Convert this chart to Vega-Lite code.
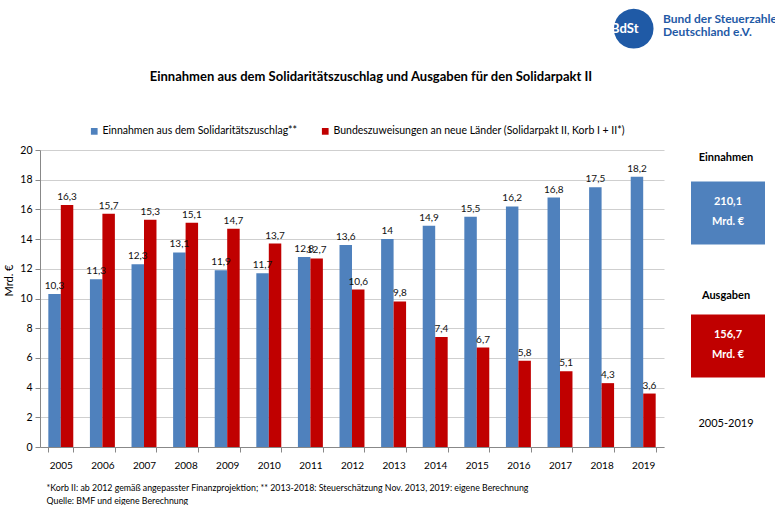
{
  "$schema": "https://vega.github.io/schema/vega-lite/v6.json",
  "padding": {"left": 3, "top": 0, "right": 0, "bottom": 0},
  "background": "white",
  "title": {
    "text": ["Bund der Steuerzahler", "Deutschland e.V."], "font": "Lato", "fontSize": 12, "fontWeight": "bold",
    "color": "#1f5aa6", "anchor": "start", "frame": "group", "dx": 623, "offset": -39, "lineHeight": 13
  },
  "spacing": 12,
  "bounds": "flush",
  "config": {
    "locale": {"number": {"decimal": ",", "thousands": ".", "grouping": [3], "currency": ["", " €"]}},
    "view": {"stroke": null},
    "font": "Lato"
  },
  "hconcat": [
    {
      "width": 624,
      "height": 297,
      "title": {
        "text": "Einnahmen aus dem Solidaritätszuschlag und Ausgaben für den Solidarpakt II",
        "font": "Lato", "fontSize": 13, "fontWeight": "bold", "color": "#000000",
        "anchor": "middle", "frame": "group", "dx": 19, "offset": 61
      },
      "data": {"values": [
        {"jahr": "2005", "serie": "Einnahmen aus dem Solidaritätszuschlag**", "wert": 10.3},
        {"jahr": "2006", "serie": "Einnahmen aus dem Solidaritätszuschlag**", "wert": 11.3},
        {"jahr": "2007", "serie": "Einnahmen aus dem Solidaritätszuschlag**", "wert": 12.3},
        {"jahr": "2008", "serie": "Einnahmen aus dem Solidaritätszuschlag**", "wert": 13.1},
        {"jahr": "2009", "serie": "Einnahmen aus dem Solidaritätszuschlag**", "wert": 11.9},
        {"jahr": "2010", "serie": "Einnahmen aus dem Solidaritätszuschlag**", "wert": 11.7},
        {"jahr": "2011", "serie": "Einnahmen aus dem Solidaritätszuschlag**", "wert": 12.8},
        {"jahr": "2012", "serie": "Einnahmen aus dem Solidaritätszuschlag**", "wert": 13.6},
        {"jahr": "2013", "serie": "Einnahmen aus dem Solidaritätszuschlag**", "wert": 14},
        {"jahr": "2014", "serie": "Einnahmen aus dem Solidaritätszuschlag**", "wert": 14.9},
        {"jahr": "2015", "serie": "Einnahmen aus dem Solidaritätszuschlag**", "wert": 15.5},
        {"jahr": "2016", "serie": "Einnahmen aus dem Solidaritätszuschlag**", "wert": 16.2},
        {"jahr": "2017", "serie": "Einnahmen aus dem Solidaritätszuschlag**", "wert": 16.8},
        {"jahr": "2018", "serie": "Einnahmen aus dem Solidaritätszuschlag**", "wert": 17.5},
        {"jahr": "2019", "serie": "Einnahmen aus dem Solidaritätszuschlag**", "wert": 18.2},
        {"jahr": "2005", "serie": "Bundeszuweisungen an neue Länder (Solidarpakt II, Korb I + II*)", "wert": 16.3},
        {"jahr": "2006", "serie": "Bundeszuweisungen an neue Länder (Solidarpakt II, Korb I + II*)", "wert": 15.7},
        {"jahr": "2007", "serie": "Bundeszuweisungen an neue Länder (Solidarpakt II, Korb I + II*)", "wert": 15.3},
        {"jahr": "2008", "serie": "Bundeszuweisungen an neue Länder (Solidarpakt II, Korb I + II*)", "wert": 15.1},
        {"jahr": "2009", "serie": "Bundeszuweisungen an neue Länder (Solidarpakt II, Korb I + II*)", "wert": 14.7},
        {"jahr": "2010", "serie": "Bundeszuweisungen an neue Länder (Solidarpakt II, Korb I + II*)", "wert": 13.7},
        {"jahr": "2011", "serie": "Bundeszuweisungen an neue Länder (Solidarpakt II, Korb I + II*)", "wert": 12.7},
        {"jahr": "2012", "serie": "Bundeszuweisungen an neue Länder (Solidarpakt II, Korb I + II*)", "wert": 10.6},
        {"jahr": "2013", "serie": "Bundeszuweisungen an neue Länder (Solidarpakt II, Korb I + II*)", "wert": 9.8},
        {"jahr": "2014", "serie": "Bundeszuweisungen an neue Länder (Solidarpakt II, Korb I + II*)", "wert": 7.4},
        {"jahr": "2015", "serie": "Bundeszuweisungen an neue Länder (Solidarpakt II, Korb I + II*)", "wert": 6.7},
        {"jahr": "2016", "serie": "Bundeszuweisungen an neue Länder (Solidarpakt II, Korb I + II*)", "wert": 5.8},
        {"jahr": "2017", "serie": "Bundeszuweisungen an neue Länder (Solidarpakt II, Korb I + II*)", "wert": 5.1},
        {"jahr": "2018", "serie": "Bundeszuweisungen an neue Länder (Solidarpakt II, Korb I + II*)", "wert": 4.3},
        {"jahr": "2019", "serie": "Bundeszuweisungen an neue Länder (Solidarpakt II, Korb I + II*)", "wert": 3.6}
      ]},
      "encoding": {
        "x": {
          "field": "jahr", "type": "nominal", "sort": null,
          "scale": {"paddingInner": 0.4, "paddingOuter": 0.2},
          "axis": {
            "title": ["*Korb II: ab 2012 gemäß angepasster Finanzprojektion; ** 2013-2018: Steuerschätzung Nov. 2013, 2019: eigene Berechnung", "Quelle: BMF und eigene Berechnung"],
            "titleFont": "Lato", "titleFontSize": 8.8, "titleFontWeight": "normal", "titleColor": "#000000",
            "titleAnchor": "start", "titleAlign": "left", "titleBaseline": "top", "titleX": 6, "titleY": 36, "titleLineHeight": 13,
            "labelAngle": 0, "labelFontSize": 10, "labelColor": "#000000", "labelPadding": 8,
            "tickBand": "extent", "tickSize": 5, "tickColor": "#888888", "domainColor": "#888888", "grid": false
          }
        },
        "xOffset": {"field": "serie", "type": "nominal", "scale": {"domain": ["Einnahmen aus dem Solidaritätszuschlag**", "Bundeszuweisungen an neue Länder (Solidarpakt II, Korb I + II*)"], "paddingInner": 0, "paddingOuter": 0}},
        "y": {
          "field": "wert", "type": "quantitative",
          "scale": {"domain": [0, 20], "nice": false},
          "axis": {
            "title": "Mrd. €", "titleFontWeight": "normal", "titleFontSize": 11, "titleColor": "#000000", "titlePadding": 5, "titleY": 130,
            "values": [0, 2, 4, 6, 8, 10, 12, 14, 16, 18, 20],
            "labelFontSize": 10.5, "labelColor": "#000000", "labelPadding": 3,
            "tickSize": 5, "tickColor": "#888888", "domainColor": "#888888",
            "grid": true, "gridColor": "#cfcfcf"
          }
        }
      },
      "layer": [
        {
          "mark": {"type": "bar"},
          "encoding": {
            "color": {
              "field": "serie", "type": "nominal",
              "scale": {"domain": ["Einnahmen aus dem Solidaritätszuschlag**", "Bundeszuweisungen an neue Länder (Solidarpakt II, Korb I + II*)"], "range": ["#4F81BD", "#C00000"]},
              "legend": {
                "title": null, "orient": "none", "legendX": 49, "legendY": -24, "direction": "horizontal",
                "symbolType": "square", "symbolSize": 45, "symbolStrokeWidth": 0, "labelOffset": 3,
                "labelFontSize": 10.5, "labelColor": "#000000", "columnPadding": 22, "padding": 0, "labelLimit": 400
              }
            }
          }
        },
        {
          "mark": {"type": "text", "baseline": "bottom", "dy": -3, "fontSize": 10, "color": "#111111"},
          "encoding": {"text": {"field": "wert", "type": "quantitative", "format": ".3~g"}}
        }
      ]
    },
    {
      "width": 100,
      "height": 297,
      "title": {
        "text": "●", "subtitle": "BdSt", "font": "DejaVu Sans", "fontSize": 52, "color": "#1f5aa6",
        "anchor": "start", "frame": "group", "dx": -65, "offset": 97,
        "subtitleColor": "white", "subtitleFont": "Lato", "subtitleFontWeight": "bold", "subtitleFontSize": 13, "subtitlePadding": -30
      },
      "data": {"values": [
        {"kategorie": "Einnahmen", "serie": "Einnahmen aus dem Solidaritätszuschlag**", "summe": 210.1},
        {"kategorie": "Ausgaben", "serie": "Bundeszuweisungen an neue Länder (Solidarpakt II, Korb I + II*)", "summe": 156.7},
        {"kategorie": "2005-2019", "serie": null, "summe": null}
      ]},
      "encoding": {
        "y": {"field": "kategorie", "type": "nominal", "scale": {"type": "point", "domain": ["Einnahmen", "Ausgaben", "2005-2019"], "padding": 0.1165, "align": 0.258}, "axis": null}
      },
      "layer": [
        {
          "transform": [{"filter": "datum.summe != null"}],
          "mark": {"type": "point", "shape": "M-1,-0.851H1V0.851H-1Z", "filled": true, "opacity": 1, "size": 5476, "yOffset": 55, "xOffset": 2},
          "encoding": {"color": {"field": "serie", "type": "nominal"}}
        },
        {
          "transform": [{"filter": "datum.summe != null"}],
          "mark": {"type": "text", "fontSize": 11, "fontWeight": "bold", "color": "white", "dy": 44, "xOffset": 2, "baseline": "middle"},
          "encoding": {"text": {"field": "summe", "type": "quantitative", "format": ".1f"}}
        },
        {
          "transform": [{"filter": "datum.summe != null"}],
          "mark": {"type": "text", "fontSize": 11, "fontWeight": "bold", "color": "white", "dy": 64, "xOffset": 2, "baseline": "middle", "text": "Mrd. €"}
        },
        {
          "transform": [{"filter": "datum.kategorie == 'Einnahmen'"}],
          "mark": {"type": "text", "fontSize": 11, "fontWeight": "bold", "color": "#000000", "baseline": "middle"},
          "encoding": {"text": {"field": "kategorie", "type": "nominal"}}
        },
        {
          "transform": [{"filter": "datum.kategorie == 'Ausgaben'"}],
          "mark": {"type": "text", "fontSize": 11, "fontWeight": "bold", "color": "#000000", "baseline": "middle", "dy": 5},
          "encoding": {"text": {"field": "kategorie", "type": "nominal"}}
        },
        {
          "transform": [{"filter": "datum.summe == null"}],
          "mark": {"type": "text", "fontSize": 11, "color": "#000000", "baseline": "middle"},
          "encoding": {"text": {"field": "kategorie", "type": "nominal"}}
        }
      ]
    }
  ]
}
